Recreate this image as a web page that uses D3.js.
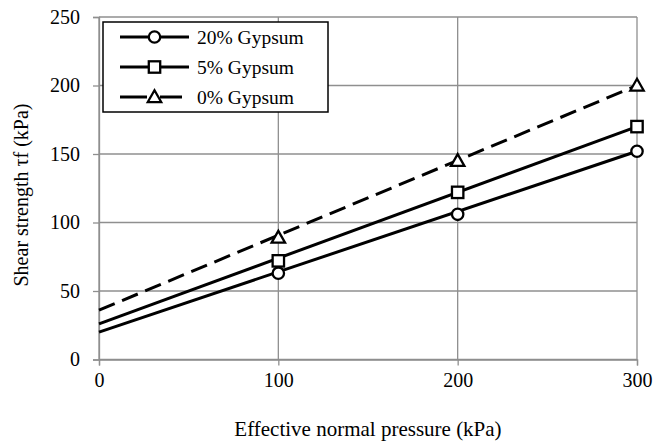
<!DOCTYPE html>
<html>
<head>
<meta charset="utf-8">
<script src="https://cdn.jsdelivr.net/npm/d3@7"></script>
<style>
  html, body { margin: 0; padding: 0; background: #fff; }
  svg { display: block; }
</style>
</head>
<body>
<svg id="chart" width="654" height="441"></svg>
<script>
// ---- data ----
const seriesNames = ["20% Gypsum", "5% Gypsum", "0% Gypsum"];
const pressures = [100, 200, 300];
const gypsum20 = [63, 106, 152];
const gypsum5 = [72, 122, 170];
const gypsum0 = [89, 145, 200];
// trend line end values (at pressure 0 and 300)
const trendStart = [20, 26, 36];
const trendEnd = [152, 170, 200];
const xTicks = [0, 100, 200, 300];
const yTicks = [0, 50, 100, 150, 200, 250];

const seriesValues = [gypsum20, gypsum5, gypsum0];
const markers = ["circle", "square", "triangle"];
const dashes = [null, null, "17,8"];
const FONT = "Liberation Serif";

const svg = d3.select("#chart");
const pLeft = 99, pRight = 637, pTop = 17, pBottom = 359.5;
const x = d3.scaleLinear().domain([0, 300]).range([pLeft, pRight]);
const y = d3.scaleLinear().domain([0, 250]).range([pBottom, pTop]);
const gridColor = "#8f8f8f";

// gridlines
svg.append("g").selectAll("line").data(yTicks).join("line")
  .attr("x1", pLeft).attr("x2", pRight)
  .attr("y1", d => y(d)).attr("y2", d => y(d))
  .attr("stroke", gridColor).attr("stroke-width", 1.3);
svg.append("g").selectAll("line").data(xTicks).join("line")
  .attr("x1", d => x(d)).attr("x2", d => x(d))
  .attr("y1", pTop).attr("y2", pBottom)
  .attr("stroke", gridColor).attr("stroke-width", 1.3);

// axes
const xAxis = d3.axisBottom(x).tickValues(xTicks).tickSize(6).tickPadding(7).tickFormat(d3.format("d"));
const yAxis = d3.axisLeft(y).tickValues(yTicks).tickSize(6).tickPadding(13).tickFormat(d3.format("d"));
const gx = svg.append("g").attr("transform", `translate(0,${pBottom})`).call(xAxis);
const gy = svg.append("g").attr("transform", `translate(${pLeft},0)`).call(yAxis);
[gx, gy].forEach(g => {
  g.attr("font-family", null).attr("font-size", null);
  g.select(".domain").attr("stroke", gridColor).attr("stroke-width", 1.3);
  g.selectAll(".tick line").attr("stroke", gridColor).attr("stroke-width", 1.3);
  g.selectAll("text").attr("fill", "#000").style("font-size", "20px")
    .style("font-family", FONT);
});

// trend lines
seriesNames.forEach((name, i) => {
  svg.append("line")
    .attr("x1", x(0)).attr("y1", y(trendStart[i]))
    .attr("x2", x(300)).attr("y2", y(trendEnd[i]))
    .attr("stroke", "#000").attr("stroke-width", 3)
    .attr("stroke-dasharray", dashes[i]);
});

function drawMarker(g, type, cx, cy) {
  if (type === "circle") {
    g.append("circle").attr("cx", cx).attr("cy", cy).attr("r", 5.7)
      .attr("fill", "#fff").attr("stroke", "#000").attr("stroke-width", 2.3);
  } else if (type === "square") {
    g.append("rect").attr("x", cx - 5.7).attr("y", cy - 5.7).attr("width", 11.4).attr("height", 11.4)
      .attr("fill", "#fff").attr("stroke", "#000").attr("stroke-width", 2.3);
  } else {
    const s = 6.7;
    g.append("path").attr("d", `M${cx},${cy - s}L${cx + s},${cy + s * 0.75}L${cx - s},${cy + s * 0.75}Z`)
      .attr("fill", "#fff").attr("stroke", "#000").attr("stroke-width", 2.3).attr("stroke-linejoin", "miter");
  }
}

// markers
seriesValues.forEach((vals, i) => {
  const g = svg.append("g");
  vals.forEach((v, j) => drawMarker(g, markers[i], x(pressures[j]), y(v)));
});

// legend
const lg = svg.append("g");
lg.append("rect").attr("x", 103).attr("y", 22).attr("width", 225).attr("height", 90)
  .attr("fill", "#fff").attr("stroke", "#000").attr("stroke-width", 1.5);
const rowY = [37, 67, 97];
seriesNames.forEach((name, i) => {
  const ly = rowY[i];
  if (dashes[i]) {
    lg.append("line").attr("x1", 120).attr("x2", 147).attr("y1", ly).attr("y2", ly)
      .attr("stroke", "#000").attr("stroke-width", 3);
    lg.append("line").attr("x1", 160).attr("x2", 182).attr("y1", ly).attr("y2", ly)
      .attr("stroke", "#000").attr("stroke-width", 3);
  } else {
    lg.append("line").attr("x1", 120).attr("x2", 189).attr("y1", ly).attr("y2", ly)
      .attr("stroke", "#000").attr("stroke-width", 3);
  }
  drawMarker(lg, markers[i], 154.5, ly);
  lg.append("text").attr("x", 197).attr("y", ly + 6.5).text(name)
    .style("font-family", FONT).style("font-size", "19.5px").attr("fill", "#000");
});

// axis titles
svg.append("text").attr("x", (pLeft + pRight) / 2).attr("y", 436)
  .attr("text-anchor", "middle").style("font-family", FONT).style("font-size", "21px")
  .text("Effective normal pressure (kPa)");
svg.append("text").attr("transform", "translate(28,195) rotate(-90)")
  .attr("text-anchor", "middle").style("font-family", FONT).style("font-size", "20px")
  .text("Shear strength τf (kPa)");
</script>
</body>
</html>
